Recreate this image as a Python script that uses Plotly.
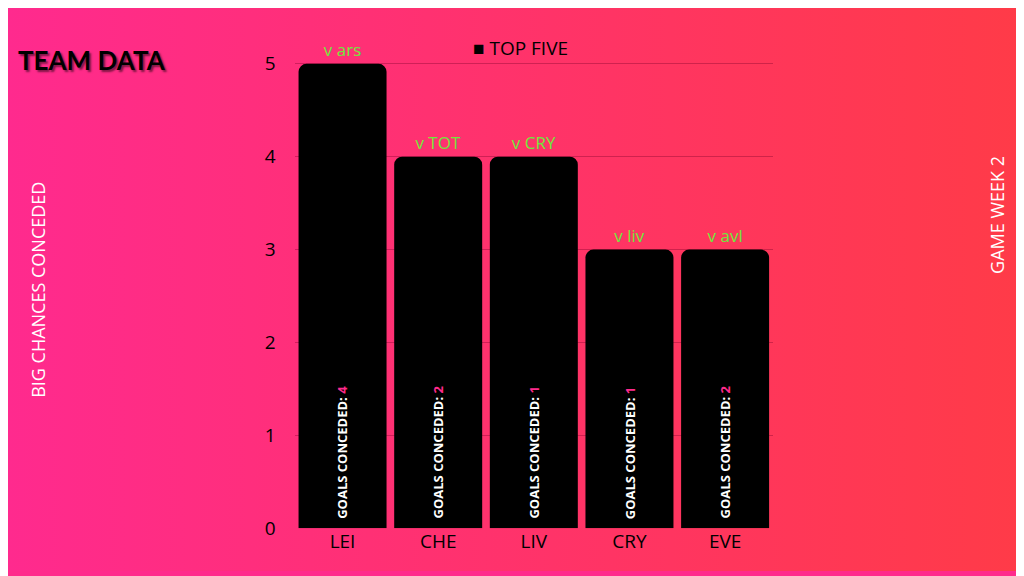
import base64
import plotly.graph_objects as go

# Chart data
teams = ['LEI', 'CHE', 'LIV', 'CRY', 'EVE']
big_chances = [5, 4, 4, 3, 3]
opponents = ['v ars', 'v TOT', 'v CRY', 'v liv', 'v avl']
goals_conceded = [4, 2, 1, 1, 2]

# pink-to-red gradient background as an svg image
svg = ('<svg xmlns="http://www.w3.org/2000/svg" width="1024" height="576">'
       '<defs><linearGradient id="g" x1="0" y1="0" x2="1" y2="0">'
       '<stop offset="0" stop-color="#ff2a8e"/><stop offset="1" stop-color="#ff3b47"/>'
       '</linearGradient></defs><rect width="1024" height="576" fill="url(#g)"/></svg>')
bg_src = 'data:image/svg+xml;base64,' + base64.b64encode(svg.encode()).decode()

fig = go.Figure()
fig.add_trace(go.Bar(x=teams, y=big_chances, marker=dict(color='black', line=dict(width=0)),
                     text=opponents, textposition='outside', cliponaxis=False,
                     textfont=dict(color='#6fe83c', size=17, family='Open Sans')))

for team, g in zip(teams, goals_conceded):
    fig.add_annotation(x=team, y=0.08, xref='x', yref='y', textangle=-90,
                       xanchor='center', yanchor='bottom', showarrow=False,
                       text='<b>GOALS CONCEDED: <span style="color:#ff2a8c">%d</span></b>' % g,
                       font=dict(color='white', size=13, family='Open Sans'))

fig.add_annotation(x=0.5, y=0.955, xref='paper', yref='paper', showarrow=False,
                   text='■ TOP FIVE', font=dict(color='black', size=19, family='Open Sans'))
fig.add_annotation(x=0.008, y=0.94, xref='paper', yref='paper', showarrow=False,
                   xanchor='left', text='<b>TEAM DATA</b>',
                   font=dict(color='black', size=26, family='Lato', shadow='2px 2px 2px rgba(0,0,0,0.5)'))
fig.add_annotation(x=0.015, y=0.5, xref='paper', yref='paper', showarrow=False,
                   textangle=-90, text='BIG CHANCES CONCEDED',
                   font=dict(color='white', size=18, family='Open Sans'))
fig.add_annotation(x=0.98, y=0.74, xref='paper', yref='paper', showarrow=False,
                   textangle=-90, text='GAME WEEK 2',
                   font=dict(color='white', size=18, family='Open Sans'))

fig.update_layout(
    width=1024, height=576, margin=dict(l=0, r=0, t=0, b=0),
    paper_bgcolor='#ff2a8c', plot_bgcolor='rgba(0,0,0,0)',
    images=[dict(source=bg_src, xref='paper', yref='paper', x=0, y=1, sizex=1, sizey=1,
                 xanchor='left', yanchor='top', sizing='stretch', layer='below')],
    showlegend=False, bargap=0.08, barcornerradius=8,
    xaxis=dict(domain=[0.28, 0.747], tickfont=dict(color='black', size=19, family='Open Sans'),
               showgrid=False, ticks=''),
    yaxis=dict(domain=[0.076, 0.947], range=[0, 5.28], dtick=1, gridcolor='rgba(120,0,40,0.35)',
               zeroline=False, tickfont=dict(color='black', size=19, family='Open Sans'),
               ticklabelstandoff=18),
)

fig.write_html('out.html')
